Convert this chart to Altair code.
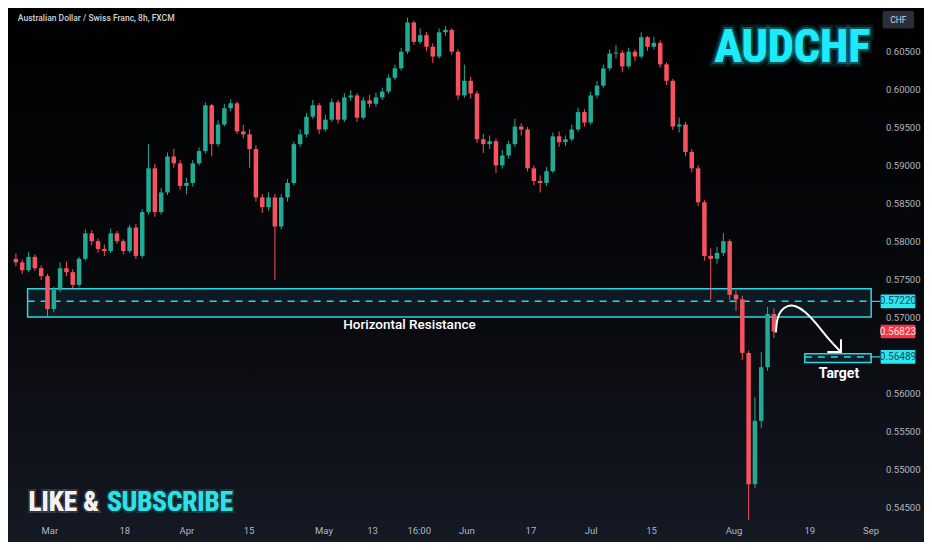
import altair as alt
import pandas as pd

# ---------------- data (one candle per trading day, index i) ----------------
closes = [
    0.57733, 0.57630, 0.57805, 0.57656, 0.57552, 0.57118, 0.57372, 0.57656, 0.57604, 0.57436,
    0.57780, 0.58115, 0.58012, 0.57909, 0.57883, 0.58115, 0.58012, 0.57883, 0.58192, 0.57818,
    0.58395, 0.58971, 0.58395, 0.58653, 0.59126, 0.59036, 0.58739, 0.58778, 0.59036, 0.59198,
    0.59801, 0.59289, 0.59547, 0.59762, 0.59827, 0.59457, 0.59418, 0.59224, 0.58588, 0.58459,
    0.58588, 0.58205, 0.58588, 0.58778, 0.59289, 0.59418, 0.59650, 0.59801, 0.59482, 0.59611,
    0.59840, 0.59611, 0.59904, 0.59930, 0.59637, 0.59865, 0.59820, 0.59904, 0.59981, 0.60162,
    0.60287, 0.60506, 0.60890, 0.60635, 0.60723, 0.60571, 0.60442, 0.60761, 0.60793, 0.60506,
    0.59930, 0.60123, 0.59956, 0.59353, 0.59289, 0.59328, 0.59010, 0.59139, 0.59289, 0.59521,
    0.59482, 0.58971, 0.58804, 0.58778, 0.58933, 0.59392, 0.59315, 0.59353, 0.59482, 0.59711,
    0.59573, 0.59930, 0.60059, 0.60287, 0.60481, 0.60493, 0.60313, 0.60506, 0.60442, 0.60697,
    0.60571, 0.60622, 0.60339, 0.60123, 0.59521, 0.59547, 0.59186, 0.58971, 0.58524, 0.57818,
    0.57780, 0.57857, 0.58012, 0.57307, 0.57247, 0.56541, 0.54814, 0.55647, 0.56353, 0.57053,
    0.56823,
]
first_open = 0.57779
opens = [first_open] + closes[:-1]   # forex candle opens at the prior close
highs = [
    0.57852, 0.57772, 0.57867, 0.57837, 0.57692, 0.57582, 0.57412, 0.57732, 0.57742, 0.57642,
    0.57807, 0.58167, 0.58157, 0.58047, 0.57967, 0.58177, 0.58147, 0.58037, 0.58227, 0.58237,
    0.58433, 0.59289, 0.59029, 0.58713, 0.59179, 0.59229, 0.59079, 0.58849, 0.59079, 0.59244,
    0.59840, 0.59820, 0.59604, 0.59820, 0.59880, 0.59850, 0.59544, 0.59484, 0.59274, 0.58633,
    0.58653, 0.58633, 0.58633, 0.58829, 0.59324, 0.59484, 0.59700, 0.59870, 0.59830, 0.59680,
    0.59890, 0.59870, 0.59960, 0.60000, 0.59960, 0.59910, 0.59940, 0.59970, 0.60030, 0.60206,
    0.60336, 0.60556, 0.60955, 0.60913, 0.60813, 0.60766, 0.60616, 0.60813, 0.60843, 0.60813,
    0.60536, 0.60336, 0.60176, 0.59990, 0.59424, 0.59404, 0.59364, 0.59214, 0.59334, 0.59624,
    0.59564, 0.59514, 0.59009, 0.58879, 0.58989, 0.59444, 0.59454, 0.59404, 0.59544, 0.59770,
    0.59750, 0.59980, 0.60120, 0.60336, 0.60536, 0.60596, 0.60526, 0.60556, 0.60536, 0.60763,
    0.60713, 0.60703, 0.60656, 0.60366, 0.60146, 0.59640, 0.59584, 0.59224, 0.59009, 0.58553,
    0.57917, 0.57937, 0.58117, 0.58037, 0.57362, 0.57292, 0.56570, 0.55955, 0.56550, 0.57146,
    0.57126,
]
lows = [
    0.57682, 0.57582, 0.57602, 0.57622, 0.57502, 0.57027, 0.57076, 0.57342, 0.57552, 0.57392,
    0.57412, 0.57757, 0.57957, 0.57857, 0.57817, 0.57857, 0.57977, 0.57837, 0.57857, 0.57777,
    0.57787, 0.58363, 0.58333, 0.58363, 0.58619, 0.58979, 0.58689, 0.58629, 0.58729, 0.59009,
    0.59164, 0.59129, 0.59254, 0.59524, 0.59720, 0.59424, 0.59364, 0.58979, 0.58533, 0.58383,
    0.58413, 0.57502, 0.58167, 0.58533, 0.58749, 0.59254, 0.59384, 0.59620, 0.59424, 0.59454,
    0.59580, 0.59560, 0.59580, 0.59860, 0.59580, 0.59610, 0.59770, 0.59780, 0.59870, 0.59950,
    0.60130, 0.60256, 0.60476, 0.60596, 0.60606, 0.60516, 0.60356, 0.60416, 0.60713, 0.60466,
    0.59870, 0.59900, 0.59890, 0.59304, 0.59174, 0.59224, 0.58909, 0.58969, 0.59099, 0.59254,
    0.59404, 0.58929, 0.58749, 0.58653, 0.58739, 0.58909, 0.59254, 0.59264, 0.59324, 0.59454,
    0.59520, 0.59544, 0.59890, 0.60030, 0.60256, 0.60416, 0.60236, 0.60286, 0.60386, 0.60416,
    0.60516, 0.60536, 0.60296, 0.60070, 0.59474, 0.59444, 0.59129, 0.58919, 0.58473, 0.57757,
    0.57243, 0.57717, 0.57817, 0.57242, 0.57096, 0.56450, 0.54341, 0.54764, 0.55555, 0.56305,
    0.56735,
]

# x-axis tick labels (positions in candle-index units)
tick_pos = [5.38, 17.23, 27.08, 36.92, 48.77, 56.46, 63.85, 71.38, 81.54, 91.08, 100.62, 113.69, 125.69, 135.38]
tick_lab = ["Mar", "18", "Apr", "15", "May", "13", "16:00", "Jun", "17", "Jul", "15", "Aug", "19", "Sep"]
# right price scale labels (0.56500 is hidden behind the tags in the original)
price_ticks = [0.545, 0.550, 0.555, 0.560, 0.570, 0.575, 0.580, 0.585, 0.590, 0.595, 0.600, 0.605]

# zones
zone_x = [1.85, 135.4]
resist_top, resist_bot, resist_mid = 0.57385, 0.57015, 0.57220
target_x = [124.9, 135.4]
target_top, target_bot, target_mid = 0.56530, 0.56415, 0.56489

# price tags on the right scale
tag_price = [0.57220, 0.56823, 0.56489]
tag_text = ["0.57220", "0.56823", "0.56489"]
tag_fill = ["#2ee6f0", "#f23645", "#2ee6f0"]
tag_ink = ["#0b4a63", "#ffe3e3", "#0b4a63"]
tag_x = [136.9, 142.4]

# curved arrow path (index, price)
arrow_i = [120.31, 120.46, 121.08, 122.15, 123.38, 124.92, 126.77, 128.77, 130.62]
arrow_p = [0.56810, 0.56989, 0.57104, 0.57168, 0.57168, 0.57091, 0.56925, 0.56708, 0.56554]
head_i = [128.46, 130.62, 130.62]
head_p = [0.56554, 0.56554, 0.56720]

# ---------------- styling ----------------
GREEN = "#22ab94"
RED = "#f7525f"
CYAN = "#2ad8e4"
AXIS_INK = "#b2b5be"
W, H = 870, 512

xs = alt.Scale(domain=[-0.46, 135.69], nice=False, zero=False)
ys = alt.Scale(domain=[0.54342, 0.61081], nice=False, zero=False)


def X(f):
    return alt.X(f, scale=xs, axis=None)


def Y(f):
    return alt.Y(f, scale=ys, axis=None)


# background gradient
bg = alt.Chart(alt.Data(values=[{"a": 1}])).mark_rect(
    fill=alt.Gradient(gradient="linear",
                      stops=[alt.GradientStop(color="#000000", offset=0),
                             alt.GradientStop(color="#08090d", offset=0.55),
                             alt.GradientStop(color="#151924", offset=1)],
                      x1=0, x2=0, y1=0, y2=1)
).encode(x=alt.value(0), x2=alt.value(916), y=alt.value(0), y2=alt.value(534))

candles = pd.DataFrame({"i": list(range(len(closes))), "open": opens, "high": highs,
                        "low": lows, "close": closes})
ccol = alt.when("datum.close >= datum.open").then(alt.value(GREEN)).otherwise(alt.value(RED))
base = alt.Chart(candles)
wick = base.mark_rule(strokeWidth=1).encode(x=X("i:Q"), y=Y("low:Q"), y2="high:Q", color=ccol)
body = base.mark_bar(size=4.5).encode(x=X("i:Q"), y=Y("open:Q"), y2="close:Q", color=ccol)

# axis labels (drawn as text on the shared scales)
xlab = alt.Chart(pd.DataFrame({"v": tick_pos, "t": tick_lab})).mark_text(
    fontSize=9.5, font="Roboto", color=AXIS_INK, baseline="middle", dy=H / 2 + 11
).encode(x=X("v:Q"), y=alt.value(H / 2), text="t:N")
ylab = alt.Chart(pd.DataFrame({"v": price_ticks})).mark_text(
    fontSize=9.5, font="Roboto", color=AXIS_INK, align="left", baseline="middle", dx=8
).encode(x=alt.value(W), y=Y("v:Q"), text=alt.Text("v:Q", format=".5f"))

zones = pd.DataFrame({"x1": [zone_x[0], target_x[0]], "x2": [zone_x[1], target_x[1]],
                      "top": [resist_top, target_top], "bot": [resist_bot, target_bot],
                      "mid": [resist_mid, target_mid]})
zone_rect = alt.Chart(zones).mark_rect(fill="#3fb4d8", fillOpacity=0.10, stroke=CYAN, strokeWidth=1.5).encode(
    x=X("x1:Q"), x2="x2:Q", y=Y("top:Q"), y2="bot:Q")
zone_dash = alt.Chart(zones).mark_rule(stroke=CYAN, strokeWidth=1.5, strokeDash=[7, 6]).encode(
    x=X("x1:Q"), x2="x2:Q", y=Y("mid:Q"))

conn = pd.DataFrame({"x1": [zone_x[1], target_x[1]], "x2": [tag_x[0], tag_x[0]], "y": [resist_mid, target_mid]})
conn_rule = alt.Chart(conn).mark_rule(stroke=CYAN, strokeWidth=1.2).encode(x=X("x1:Q"), x2="x2:Q", y=Y("y:Q"))

tags = pd.DataFrame({"p": tag_price, "t": tag_text, "fill": tag_fill, "ink": tag_ink})
tags["top"] = tags["p"] + 0.00090
tags["bot"] = tags["p"] - 0.00090
tags["x1"] = tag_x[0]
tags["x2"] = tag_x[1]
tags["xm"] = (tag_x[0] + tag_x[1]) / 2
tag_rect = alt.Chart(tags).mark_rect(cornerRadius=1).encode(
    x=X("x1:Q"), x2="x2:Q", y=Y("top:Q"), y2="bot:Q", fill=alt.Fill("fill:N", scale=None))
tag_txt = alt.Chart(tags).mark_text(fontSize=10, font="Roboto").encode(
    x=X("xm:Q"), y=Y("p:Q"), text="t:N", color=alt.Color("ink:N", scale=None))

chf = pd.DataFrame({"x1": [137.2], "x2": [142.2], "top": [0.61043], "bot": [0.60812], "t": ["CHF"]})
chf["xm"] = (chf["x1"] + chf["x2"]) / 2
chf["ym"] = (chf["top"] + chf["bot"]) / 2
chf_rect = alt.Chart(chf).mark_rect(fill="#2a2e39", cornerRadius=2).encode(
    x=X("x1:Q"), x2="x2:Q", y=Y("top:Q"), y2="bot:Q")
chf_txt = alt.Chart(chf).mark_text(fontSize=8.5, font="Roboto", color="#d1d4dc").encode(
    x=X("xm:Q"), y=Y("ym:Q"), text="t:N")

arrow_df = pd.DataFrame({"i": arrow_i, "p": arrow_p, "o": list(range(len(arrow_i)))})
arrow = alt.Chart(arrow_df).mark_line(color="white", strokeWidth=2, interpolate="basis").encode(
    x=X("i:Q"), y=Y("p:Q"), order="o:Q")
head_df = pd.DataFrame({"i": head_i, "p": head_p, "o": [0, 1, 2]})
head = alt.Chart(head_df).mark_line(color="white", strokeWidth=2).encode(
    x=X("i:Q"), y=Y("p:Q"), order="o:Q")


def txt(xv, yv, t, **kw):
    df = pd.DataFrame({"x": [xv], "y": [yv], "t": [t]})
    return alt.Chart(df).mark_text(**kw).encode(x=X("x:Q"), y=Y("y:Q"), text="t:N")


NARROW = "Liberation Sans Narrow, Roboto Condensed, DejaVu Sans Condensed, Roboto"

title_t = txt(0.31, 0.60953, "Australian Dollar / Swiss Franc, 8h, FXCM", align="left", baseline="middle",
              fontSize=8.5, font="Roboto", fontWeight=500, color="#d1d4dc")
resist_t = txt(62.3, 0.56912, "Horizontal Resistance", align="center", baseline="middle",
               fontSize=13.5, font="Roboto", fontWeight=500, color="#ffffff")
target_t = txt(130.3, 0.56265, "Target", align="center", baseline="middle",
               fontSize=14, font="Roboto", fontWeight="bold", color="#ffffff")

aud_glow1 = txt(122.92, 0.60557, "AUDCHF", align="center", baseline="middle", fontSize=46, font=NARROW,
                fontWeight="bold", color="#18e8f8", stroke="#18e8f8", strokeWidth=9, strokeOpacity=0.12)
aud_glow2 = txt(122.92, 0.60557, "AUDCHF", align="center", baseline="middle", fontSize=46, font=NARROW,
                fontWeight="bold", color="#18e8f8", stroke="#18e8f8", strokeWidth=4, strokeOpacity=0.3)
aud = txt(122.92, 0.60557, "AUDCHF", align="center", baseline="middle", fontSize=46, font=NARROW,
          fontWeight="bold", color="#1cecfa")

like_glow = txt(2.0, 0.54457, "LIKE &", align="left", baseline="alphabetic", fontSize=27, font=NARROW,
                fontWeight="bold", color="#f2f2f2", stroke="#ffffff", strokeWidth=4, strokeOpacity=0.15)
like = txt(2.0, 0.54457, "LIKE &", align="left", baseline="alphabetic", fontSize=27, font=NARROW,
           fontWeight="bold", color="#f2f2f2")
sub_glow = txt(14.46, 0.54457, "SUBSCRIBE", align="left", baseline="alphabetic", fontSize=27, font=NARROW,
               fontWeight="bold", color="#2de2e6", stroke="#2de2e6", strokeWidth=4, strokeOpacity=0.18)
sub = txt(14.46, 0.54457, "SUBSCRIBE", align="left", baseline="alphabetic", fontSize=27, font=NARROW,
          fontWeight="bold", color="#2de2e6")

chart = alt.layer(
    bg, zone_rect, zone_dash, wick, body, conn_rule, xlab, ylab, tag_rect, tag_txt, chf_rect, chf_txt,
    arrow, head, title_t, resist_t, target_t, aud_glow1, aud_glow2, aud,
    like_glow, like, sub_glow, sub,
).properties(width=W, height=H, padding=0).configure(background="#07080b").configure_view(stroke=None)

chart.save("out.html", embed_options={"renderer": "svg", "actions": False})
